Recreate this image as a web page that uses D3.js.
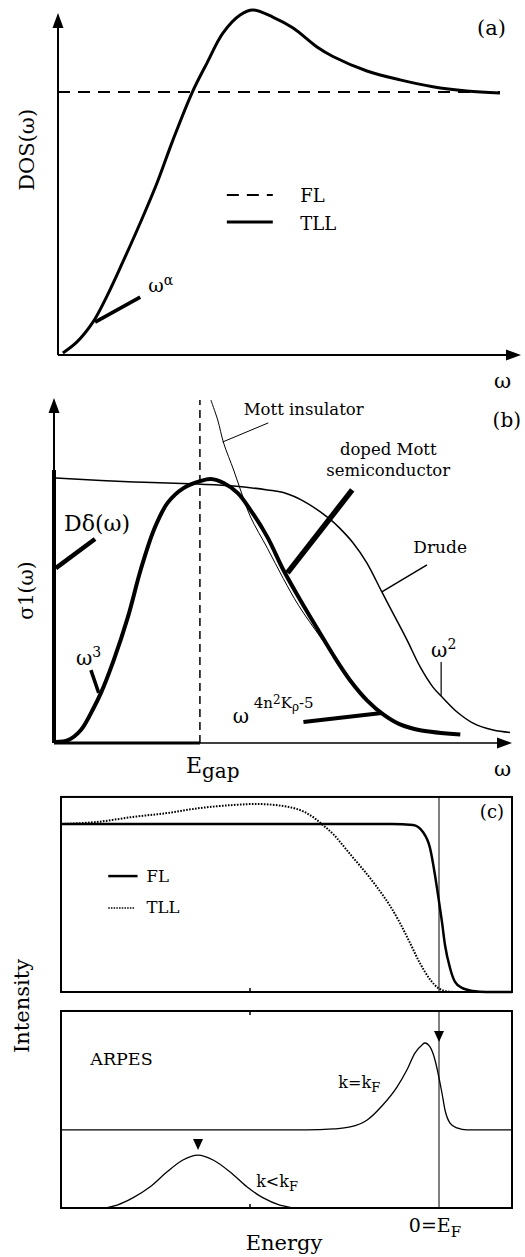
<!DOCTYPE html>
<html>
<head>
<meta charset="utf-8">
<script src="https://cdn.jsdelivr.net/npm/d3@7"></script>
<style>
  body { margin: 0; background: #fff; }
  svg { display: block; }
  text { font-family: "DejaVu Serif", "Liberation Serif", serif; fill: #000; }
</style>
</head>
<body>
<svg id="fig" width="525" height="1257"></svg>
<script>
// ---- (a) density of states ----
var dosOmega = [0.11, 0.43, 0.79, 1.11, 1.47, 1.86, 2.24, 2.60, 3.03, 3.37, 3.73, 4.12, 4.41, 4.86, 5.32, 5.86, 6.22, 6.99, 7.74, 8.48, 9.25, 10];
var dosTLL = [0.008, 0.05, 0.125, 0.225, 0.355, 0.502, 0.654, 0.817, 0.996, 1.11, 1.224, 1.293, 1.312, 1.285, 1.243, 1.171, 1.135, 1.08, 1.046, 1.02, 1.004, 0.996];
var dosFL = 1.0;

// ---- (b) optical conductivity ----
var egap = 3.2;
var drudeWeight = 1.03;
var drudeOmega = [0.04, 1.75, 3.15, 3.94, 4.68, 5.03, 5.5, 6.05, 6.27, 6.56, 6.86, 7.19, 7.43, 7.74, 8.03, 8.31, 8.53, 8.84, 9.19, 9.63, 10];
var drudeSigma = [1.0, 0.985, 0.977, 0.970, 0.955, 0.945, 0.91, 0.845, 0.81, 0.755, 0.68, 0.570, 0.491, 0.389, 0.287, 0.211, 0.170, 0.117, 0.075, 0.049, 0.040];
var dopedOmega = [0.04, 0.31, 0.59, 0.88, 1.03, 1.31, 1.62, 1.90, 2.19, 2.49, 2.84, 3.22, 3.44, 3.72, 4.03, 4.31, 4.68, 5.03, 5.40, 5.78, 6.13, 6.50, 6.87, 7.22, 7.59, 8.03, 8.91];
var dopedSigma = [0.004, 0.011, 0.049, 0.136, 0.189, 0.313, 0.475, 0.653, 0.804, 0.906, 0.962, 0.989, 0.996, 0.981, 0.943, 0.879, 0.777, 0.653, 0.540, 0.430, 0.330, 0.235, 0.160, 0.108, 0.070, 0.048, 0.032];
var mottOmega = [3.44, 3.59, 3.72, 3.94, 4.09, 4.31, 4.68, 5.03, 5.36, 5.84, 6.2, 6.5];
var mottSigma = [1.294, 1.219, 1.132, 1.030, 0.955, 0.853, 0.735, 0.62, 0.52, 0.400, 0.312, 0.232];

// ---- (c) momentum integrated spectra ----
var flEnergy = [-8, -4, -1, -0.55, -0.34, -0.19, -0.085, -0.02, 0.063, 0.127, 0.233, 0.339, 0.487, 0.72, 1.0, 1.545];
var flIntensity = [1, 1, 1, 0.994, 0.952, 0.857, 0.696, 0.577, 0.417, 0.28, 0.143, 0.06, 0.024, 0.006, 0, 0];
var tllEnergy = [-8, -7.24, -6.48, -5.76, -5.06, -4.36, -3.79, -3.30, -2.94, -2.67, -2.46, -2.24, -1.88, -1.52, -1.25, -1.04, -0.825, -0.61, -0.40, -0.19, -0.02, 0.127, 0.35];
var tllIntensity = [1.0, 1.012, 1.042, 1.065, 1.095, 1.113, 1.119, 1.107, 1.083, 1.042, 0.994, 0.94, 0.82, 0.70, 0.60, 0.515, 0.41, 0.29, 0.17, 0.075, 0.024, 0.006, 0];

// ---- (c) ARPES ----
var kfEnergy = [-8, -4, -2.8, -2.24, -1.88, -1.52, -1.19, -0.89, -0.68, -0.51, -0.36, -0.30, -0.19, -0.085, -0.021, 0.063, 0.127, 0.233, 0.381, 0.593, 1.0, 1.545];
var kfIntensity = [0.473, 0.473, 0.473, 0.479, 0.491, 0.533, 0.624, 0.733, 0.836, 0.939, 0.988, 1.0, 0.976, 0.897, 0.818, 0.697, 0.594, 0.515, 0.485, 0.473, 0.473, 0.473];
var kltEnergy = [-8, -7.17, -6.81, -6.48, -6.12, -5.76, -5.42, -5.10, -4.78, -4.42, -4.06, -3.72, -3.37, -2.94, 1.545];
var kltIntensity = [0, 0, 0.018, 0.061, 0.127, 0.218, 0.291, 0.321, 0.291, 0.218, 0.127, 0.061, 0.018, 0, 0];
var peakMarks = [{ e: 0, i: 1.006 }, { e: -5.10, i: 0.352 }];

var svg = d3.select("#fig");

function zip(xs, ys) {
  return xs.map(function (x, i) { return [x, ys[i]]; });
}

function lineGen(xs, ys, smooth) {
  return d3.line()
    .x(function (d) { return xs(d[0]); })
    .y(function (d) { return ys(d[1]); })
    .curve(smooth ? d3.curveCatmullRom.alpha(0.5) : d3.curveMonotoneX);
}

function arrowUp(x, y) {
  svg.append("path")
    .attr("d", "M" + x + "," + y + "L" + (x - 5.5) + "," + (y + 15) + "L" + (x + 5.5) + "," + (y + 15) + "Z")
    .style("fill", "#000");
}
function arrowRight(x, y) {
  svg.append("path")
    .attr("d", "M" + x + "," + y + "L" + (x - 15) + "," + (y - 5.5) + "L" + (x - 15) + "," + (y + 5.5) + "Z")
    .style("fill", "#000");
}
function seg(p, q, w) {
  return svg.append("line")
    .attr("x1", p[0]).attr("y1", p[1]).attr("x2", q[0]).attr("y2", q[1])
    .style("stroke", "#000").style("stroke-width", w);
}
function label(x, y, size, parts, anchor) {
  var t = svg.append("text").attr("x", x).attr("y", y)
    .style("font-size", size + "px")
    .attr("text-anchor", anchor || "start");
  parts.forEach(function (p) {
    var s = t.append("tspan").text(p.t);
    if (p.size) s.style("font-size", p.size + "px");
    if (p.dy) s.attr("dy", p.dy);
  });
  return t;
}

// ================= (a) =================
var ax = d3.scaleLinear().domain([0, 10]).range([58, 500]);
var ay = d3.scaleLinear().domain([0, 1]).range([355, 92]);

seg([ax(0), ay(0)], [ax(0), 22], 2);
arrowUp(ax(0), 13);
seg([ax(0), ay(0)], [510, ay(0)], 2);
arrowRight(521, ay(0));

svg.append("line")
  .attr("x1", ax(0)).attr("x2", ax(10))
  .attr("y1", ay(dosFL)).attr("y2", ay(dosFL))
  .style("stroke", "#000").style("stroke-width", 2)
  .style("stroke-dasharray", "12,8");

svg.append("path")
  .attr("d", lineGen(ax, ay, true)(zip(dosOmega, dosTLL)))
  .style("fill", "none").style("stroke", "#000").style("stroke-width", 3);

// omega^alpha pointer
seg([ax(0.84), ay(0.125)], [ax(1.86), ay(0.22)], 3.5);
label(ax(2.04), ay(0.24), 19, [{ t: "ω" }, { t: "α", size: 14, dy: -7 }]);

// legend (a)
svg.append("line")
  .attr("x1", ax(3.82)).attr("x2", ax(4.86))
  .attr("y1", ay(0.608)).attr("y2", ay(0.608))
  .style("stroke", "#000").style("stroke-width", 2)
  .style("stroke-dasharray", "12,8");
seg([ax(3.82), ay(0.506)], [ax(4.86), ay(0.506)], 3);
label(ax(5.48), ay(0.582), 18, [{ t: "FL" }]);
label(ax(5.48), ay(0.475), 18, [{ t: "TLL" }]);

label(506, 35, 21, [{ t: "(a)" }], "end");
label(511, 388, 21, [{ t: "ω" }], "end");
svg.append("text")
  .attr("transform", "translate(34," + ay(0.78) + ") rotate(-90)")
  .attr("text-anchor", "middle")
  .style("font-size", "21px")
  .text("DOS(ω)");

// ================= (b) =================
var bx = d3.scaleLinear().domain([0, 10]).range([54, 510]);
var by = d3.scaleLinear().domain([0, 1]).range([743, 478]);

seg([bx(0), by(drudeWeight)], [bx(0), 408], 2);
arrowUp(bx(0), 398);
seg([bx(egap), by(0)], [497, by(0)], 1.5);
arrowRight(512, by(0));
seg([bx(0), by(0)], [bx(egap), by(0)], 2.8);
// Drude delta peak
seg([bx(0), by(0)], [bx(0), by(drudeWeight)], 4);

svg.append("line")
  .attr("x1", bx(egap)).attr("x2", bx(egap))
  .attr("y1", by(0)).attr("y2", 400)
  .style("stroke", "#000").style("stroke-width", 1.5)
  .style("stroke-dasharray", "8,5");

svg.append("path")
  .attr("d", lineGen(bx, by, true)(zip(drudeOmega, drudeSigma)))
  .style("fill", "none").style("stroke", "#000").style("stroke-width", 1.5);
svg.append("path")
  .attr("d", lineGen(bx, by, true)(zip(mottOmega, mottSigma)))
  .style("fill", "none").style("stroke", "#000").style("stroke-width", 1);
svg.append("path")
  .attr("d", lineGen(bx, by, true)(zip(dopedOmega, dopedSigma)))
  .style("fill", "none").style("stroke", "#000").style("stroke-width", 4);

// pointers (b)
seg([bx(0.04), by(0.66)], [bx(0.90), by(0.77)], 4.5);
label(bx(0.22), by(0.80), 22, [{ t: "Dδ(ω)" }]);
seg([bx(0.81), by(0.275)], [bx(0.98), by(0.189)], 3.5);
label(bx(0.48), by(0.294), 20, [{ t: "ω" }, { t: "3", size: 14, dy: -8 }]);
seg([bx(6.54), by(0.955)], [bx(5.12), by(0.642)], 5.5);
label(bx(7.33), by(1.087), 16.5, [{ t: "doped Mott" }], "middle");
label(bx(7.33), by(1.008), 16.5, [{ t: "semiconductor" }], "middle");
seg([bx(3.70), by(1.136)], [bx(4.70), by(1.208)], 1);
label(bx(4.16), by(1.238), 16.5, [{ t: "Mott insulator" }]);
seg([bx(8.18), by(0.672)], [bx(7.19), by(0.57)], 1.5);
label(bx(7.88), by(0.717), 17, [{ t: "Drude" }]);
seg([bx(8.49), by(0.306)], [bx(8.49), by(0.178)], 1.2);
label(bx(8.27), by(0.325), 20, [{ t: "ω" }, { t: "2", size: 14, dy: -8 }]);
seg([bx(5.47), by(0.079)], [bx(7.19), by(0.113)], 4);
label(bx(3.92), by(0.075), 20, [
  { t: "ω" },
  { t: " 4n", size: 15, dy: -15 },
  { t: "2", size: 12, dy: -4 },
  { t: "K", size: 15, dy: 4 },
  { t: "ρ", size: 12, dy: 3 },
  { t: "-5", size: 15, dy: -3 }
]);

label(521, 427, 20, [{ t: "(b)" }], "end");
label(511, 776, 21, [{ t: "ω" }], "end");
label(bx(egap) - 14, 773, 22, [{ t: "E" }, { t: "gap", size: 20, dy: 5 }]);
svg.append("text")
  .attr("transform", "translate(33," + by(0.575) + ") rotate(-90)")
  .attr("text-anchor", "middle")
  .style("font-size", "20px")
  .text("σ1(ω)");

// ================= (c) =================
var cx = d3.scaleLinear().domain([-8, 0]).range([61, 439]);
var cyTop = d3.scaleLinear().domain([0, 1]).range([992, 824]);
var cyBot = d3.scaleLinear().domain([0, 1]).range([1208, 1043]);
var eMax = 1.545;

function frame(ys, top) {
  svg.append("rect")
    .attr("x", cx(-8)).attr("y", ys(top))
    .attr("width", cx(eMax) - cx(-8)).attr("height", ys(0) - ys(top))
    .style("fill", "none").style("stroke", "#000").style("stroke-width", 2);
  seg([cx(0), ys(0)], [cx(0), ys(top)], 1);
}
frame(cyTop, 1.161);
frame(cyBot, 1.194);
// small ticks at E = -4
seg([cx(-4), cyTop(0)], [cx(-4), cyTop(0) - 4], 1.5);
seg([cx(-4), cyBot(1.194)], [cx(-4), cyBot(1.194) + 4], 1.5);
seg([cx(-4), cyBot(0)], [cx(-4), cyBot(0) - 4], 1.5);

svg.append("path")
  .attr("d", lineGen(cx, cyTop, true)(zip(tllEnergy, tllIntensity)))
  .style("fill", "none").style("stroke", "#000").style("stroke-width", 2)
  .style("stroke-dasharray", "1.6,1.4");
svg.append("path")
  .attr("d", lineGen(cx, cyTop)(zip(flEnergy, flIntensity)))
  .style("fill", "none").style("stroke", "#000").style("stroke-width", 2.5);

// legend (c)
seg([cx(-7.0), cyTop(0.69)], [cx(-6.38), cyTop(0.69)], 2.5);
svg.append("line")
  .attr("x1", cx(-7.0)).attr("x2", cx(-6.45))
  .attr("y1", cyTop(0.5)).attr("y2", cyTop(0.5))
  .style("stroke", "#000").style("stroke-width", 1.5)
  .style("stroke-dasharray", "1.5,1.2");
label(cx(-6.19), cyTop(0.655), 16.5, [{ t: "FL" }]);
label(cx(-6.19), cyTop(0.47), 16.5, [{ t: "TLL" }]);
label(504, 818, 18, [{ t: "(c)" }], "end");

svg.append("path")
  .attr("d", lineGen(cx, cyBot)(zip(kfEnergy, kfIntensity)))
  .style("fill", "none").style("stroke", "#000").style("stroke-width", 1.3);
svg.append("path")
  .attr("d", lineGen(cx, cyBot)(zip(kltEnergy, kltIntensity)))
  .style("fill", "none").style("stroke", "#000").style("stroke-width", 1.3);

peakMarks.forEach(function (m) {
  var x = cx(m.e), y = cyBot(m.i);
  svg.append("path")
    .attr("d", "M" + x + "," + y + "L" + (x - 5) + "," + (y - 11) + "L" + (x + 5) + "," + (y - 11) + "Z")
    .style("fill", "#000");
});

label(cx(-7.38), cyBot(0.867), 17.5, [{ t: "ARPES" }]);
label(cx(-2.13), cyBot(0.727), 16, [{ t: "k=k" }, { t: "F", size: 13, dy: 4 }]);
label(cx(-3.87), cyBot(0.127), 16, [{ t: "k<k" }, { t: "F", size: 13, dy: 4 }]);

label(cx(0) - 4, 1232, 19, [{ t: "0=E" }, { t: "F", size: 15, dy: 5 }], "middle");
label(284, 1250, 21, [{ t: "Energy" }], "middle");
svg.append("text")
  .attr("transform", "translate(29," + 1006 + ") rotate(-90)")
  .attr("text-anchor", "middle")
  .style("font-size", "21px")
  .text("Intensity");
</script>
</body>
</html>
